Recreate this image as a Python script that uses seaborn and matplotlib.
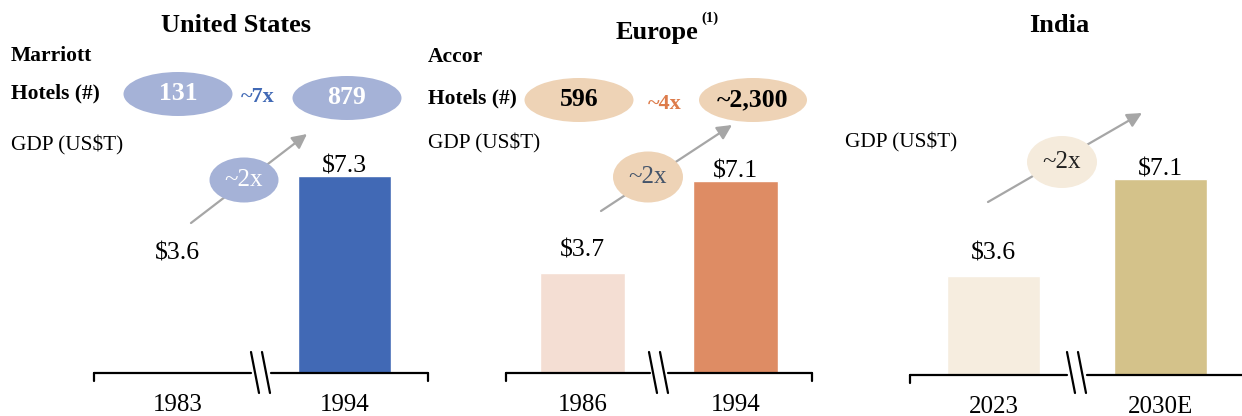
import pandas as pd
import numpy as np
import matplotlib
matplotlib.use("Agg")
import matplotlib.pyplot as plt
from matplotlib.patches import Ellipse, FancyArrowPatch
import seaborn as sns

# data
regions = ["United States", "Europe", "India"]
years_us = ["1983", "1994"]
years_eu = ["1986", "1994"]
years_in = ["2023", "2030E"]
gdp_us = [3.6, 7.3]
gdp_eu = [3.7, 7.1]
gdp_in = [3.6, 7.1]
chains = ["Marriott", "Accor"]
hotels_us = ["131", "879"]
hotels_eu = ["596", "~2,300"]
hotel_mult = ["~7x", "~4x"]
gdp_mult = ["~2x", "~2x", "~2x"]

colors_us = ["#FFFFFF", "#4169B5"]
colors_eu = ["#F4DED3", "#DE8C64"]
colors_in = ["#F6EDDF", "#D4C28A"]

sns.set_style("white")
plt.rcParams['font.family'] = ['Liberation Serif', 'DejaVu Serif']
plt.rcParams['text.color'] = 'black'
plt.rcParams['xtick.color'] = 'black'

W, H = 1242, 416
fig = plt.figure(figsize=(W / 100, H / 100), dpi=100)


def fx(x):
    return x / W


def fy(y):
    return 1 - y / H


def ftext(x, y, s, **kw):
    fig.text(fx(x), fy(y), s, ha=kw.pop('ha', 'center'), va=kw.pop('va', 'center'), **kw)


def ellipse(x, y, w, h, color, label, tcolor, size, weight='normal'):
    fig.add_artist(Ellipse((fx(x), fy(y)), w / W, h / H, transform=fig.transFigure,
                           facecolor=color, edgecolor='none', zorder=2))
    ftext(x, y, label, color=tcolor, fontsize=size, fontweight=weight, zorder=3)


def arrow(x0, y0, x1, y1):
    fig.add_artist(FancyArrowPatch((fx(x0), fy(y0)), (fx(x1), fy(y1)), transform=fig.transFigure,
                                   arrowstyle='-|>', mutation_scale=22, lw=1.6,
                                   color='#A6A6A6', zorder=1, shrinkA=0, shrinkB=0))


def panel(left, right, base, years, gdp, colors, brk_x, px_per_unit):
    ax = fig.add_axes([fx(left), fy(base), (right - left) / W, base / H])
    df = pd.DataFrame({'year': years, 'gdp': gdp})
    sns.barplot(data=df, x='year', y='gdp', hue='year', palette=colors, width=0.56,
                saturation=1, legend=False, ax=ax)
    # short bar label sits a bit higher above its bar than the tall one
    for c, v, pad in zip(ax.containers, gdp, (8, -1)):
        ax.bar_label(c, labels=[f"${v}"], padding=pad, fontsize=18.5)
    ax.set_xlim(-0.5, 1.5)
    ax.set_ylim(0, base / px_per_unit)
    sns.despine(ax=ax, left=True, bottom=True)
    ax.set_yticks([])
    ax.set_xlabel('')
    ax.set_ylabel('')
    ax.tick_params(axis='x', length=0, pad=15, labelsize=18)
    # baseline with end ticks and a break
    gap = 0.06
    ax.plot([0, brk_x - gap / 2], [0, 0], color='black', lw=1.6, transform=ax.transAxes, clip_on=False)
    ax.plot([brk_x + gap / 2, 1], [0, 0], color='black', lw=1.6, transform=ax.transAxes, clip_on=False)
    tick = 8 / base
    for xe in (0, 1):
        ax.plot([xe, xe], [0, -tick], color='black', lw=1.6, transform=ax.transAxes, clip_on=False)
    bx = left + brk_x * (right - left)
    for dx in (-6, 5):
        ax.plot([fx(bx + dx - 4), fx(bx + dx + 4)], [fy(352), fy(393)], color='black', lw=1.6,
                transform=fig.transFigure, clip_on=False)
    return ax


panel(94, 428, 373, years_us, gdp_us, colors_us, 0.5, 27.0)
panel(506, 812, 373, years_eu, gdp_eu, colors_eu, 0.5, 27.0)
panel(910, 1244, 375, years_in, gdp_in, colors_in, 0.5, 27.6)

# titles
ftext(236, 25, regions[0], fontsize=19, fontweight='bold')
ftext(657, 33, regions[1], fontsize=19, fontweight='bold')
ftext(710, 18, "(1)", fontsize=10.5, fontweight='bold')
ftext(1059, 25, regions[2], fontsize=19, fontweight='bold')

# hotel rows
ftext(11, 56, chains[0], fontsize=15.5, fontweight='bold', ha='left')
ftext(11, 93, "Hotels (#)", fontsize=15.5, fontweight='bold', ha='left')
ftext(428, 57, chains[1], fontsize=15.5, fontweight='bold', ha='left')
ftext(428, 98, "Hotels (#)", fontsize=15.5, fontweight='bold', ha='left')

ellipse(178, 94, 109, 44, '#A5B2D7', hotels_us[0], 'white', 18.5, 'bold')
ellipse(347, 98, 109, 44, '#A5B2D7', hotels_us[1], 'white', 18.5, 'bold')
ftext(258, 97, hotel_mult[0], color='#4169B5', fontsize=16, fontweight='bold')

ellipse(579, 100, 109, 44, '#EED3B6', hotels_eu[0], 'black', 18.5, 'bold')
ellipse(753, 100, 108, 44, '#EED3B6', hotels_eu[1], 'black', 18.5, 'bold')
ftext(665, 104, hotel_mult[1], color='#DD7B4A', fontsize=16, fontweight='bold')

# GDP labels
ftext(11, 145, "GDP (US$T)", fontsize=15.3, ha='left')
ftext(428, 143, "GDP (US$T)", fontsize=15.3, ha='left')
ftext(845, 142, "GDP (US$T)", fontsize=15.3, ha='left')

# growth arrows
arrow(191, 223, 307, 134)
ellipse(244, 180, 69, 45, '#A5B2D7', gdp_mult[0], 'white', 18)
arrow(601, 211, 732, 125)
ellipse(648, 177, 70, 51, '#EED3B6', gdp_mult[1], '#44546A', 18)
arrow(988, 202, 1142, 113)
ellipse(1062, 162, 70, 52, '#F5EBDC', gdp_mult[2], '#222222', 18)

fig.savefig("out.png", dpi=100)
